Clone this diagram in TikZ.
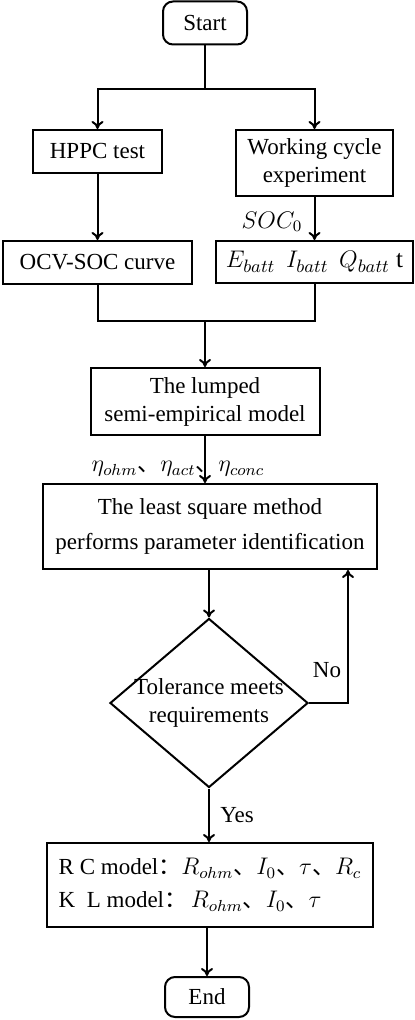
\documentclass[tikz,border=0pt]{standalone}
\usepackage{fontspec}
\setmainfont{Liberation Serif}
\newfontfamily\cjk{Noto Sans CJK SC}
\usetikzlibrary{shapes.geometric,arrows.meta}

\newcommand{\dun}{{\cjk 、}}
\newcommand{\fcolon}{{\cjk ：}}

\tikzset{
  box/.style={draw,line width=1pt,align=center,inner sep=0pt,font=\fontsize{11.5}{14}\selectfont},
  term/.style={box,rounded corners=5pt},
  decide/.style={box,diamond,inner sep=-3pt,aspect=1.17},
  lbl/.style={inner sep=0pt,font=\fontsize{11.5}{14}\selectfont},
  line/.style={line width=1pt},
  arr/.style={line,-{To[length=4pt,width=6pt]}}
}

\begin{document}
\begin{tikzpicture}[x=0.5pt,y=-0.5pt]
	\useasboundingbox (0,0) rectangle (415,1020);
	\node[term,minimum width=42pt,minimum height=21.5pt] (start) at (205,23) {Start};
	\coordinate (fork) at (205,89);
	\node[box,minimum width=64.5pt,minimum height=21.5pt] (hppc) at (97.5,151.5) {HPPC test};
	\node[box,minimum width=78.5pt,minimum height=33pt] (work) at (314.5,163) {Working cycle\\experiment};
	\node[box,minimum width=94.5pt,minimum height=21.5pt] (ocv) at (97.5,262.5) {OCV-SOC curve};
	\node[box,minimum width=98.5pt,minimum height=21pt,font=\fontsize{12.5}{14}\selectfont] (meas) at (314.5,262) {$E_{batt}\;\,I_{batt}\;\,Q_{batt}$ t};
	\coordinate (join) at (205,321);
	\node[box,minimum width=114.5pt,minimum height=33.5pt] (lumped) at (205,401.5) {The lumped\\semi-empirical model};
	\node[box,minimum width=167pt,minimum height=42.5pt,font=\fontsize{11.5}{17.5}\selectfont] (lsq) at (210,526.5) {The least square method\\performs parameter identification};
	\node[decide,minimum width=99pt,minimum height=84.5pt] (tol) at (209,703) {Tolerance meets\\requirements};
	\coordinate (back) at (348,703);
	\node[box,minimum width=163pt,minimum height=42pt,align=left,font=\fontsize{11.5}{16.5}\selectfont] (res) at (210,885) {R C model\fcolon$R_{ohm}$\dun$I_0$\dun$\tau$\dun$R_c$\\K\ \ L model\fcolon\,$R_{ohm}$\dun$I_0$\dun$\tau$};
	\node[term,minimum width=42pt,minimum height=20pt] (end) at (207,997) {End};

	\node[lbl] (soc) at (272,222) {$SOC_0$};
	\node[lbl] (eta) at (178,469) {$\eta_{ohm}$\dun$\eta_{act}$\dun$\eta_{conc}$};
	\node[lbl] (no) at (327,670) {No};
	\node[lbl] (yes) at (237,815) {Yes};

	\draw[line] (start) -- (fork);
	\draw[arr] (fork) -| (hppc);
	\draw[arr] (fork) -| (work);
	\draw[arr] (hppc) -- (ocv);
	\draw[arr] (work) -- (meas);
	\draw[line] (ocv) |- (join) -| (meas);
	\draw[arr] (join) -- (lumped);
	\draw[arr] (lumped) -- (lumped |- lsq.north);
	\draw[arr] (tol |- lsq.south) -- (tol);
	\draw[arr] (tol.east) -- (back) -- (back |- lsq.south);
	\draw[arr] (tol) -- (tol |- res.north);
	\draw[arr] (end |- res.south) -- (end);
\end{tikzpicture}
\end{document}
